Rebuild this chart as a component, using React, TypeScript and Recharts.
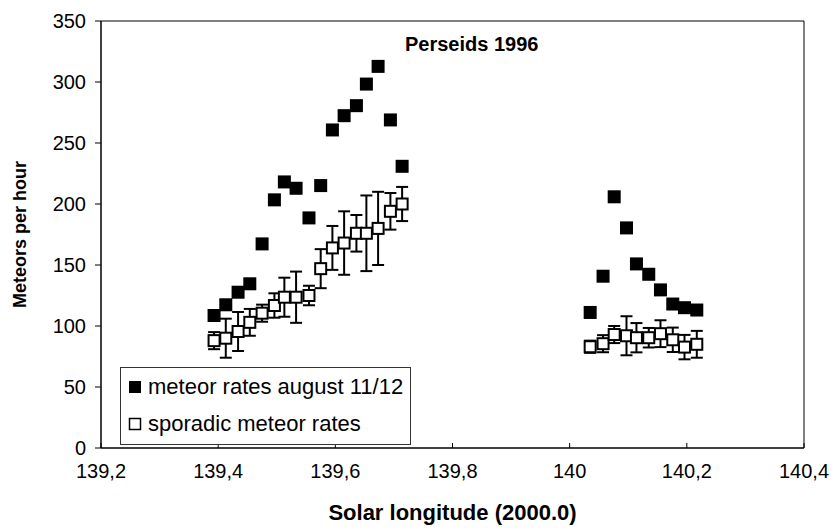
import { ScatterChart, Scatter, XAxis, YAxis, ErrorBar, ReferenceArea, Legend } from 'recharts'

// solar longitude of each observing interval (shared by both series)
const solarLongitude = [
  139.393, 139.413, 139.434, 139.454, 139.475, 139.496, 139.513, 139.533, 139.555,
  139.575, 139.595, 139.615, 139.636, 139.653, 139.673, 139.694, 139.714,
  140.035, 140.057, 140.076, 140.097, 140.114, 140.135, 140.155, 140.176, 140.196, 140.217,
]

const showerRates = [
  108.6, 117.4, 127.7, 134.6, 167.3, 203.4, 218.1, 212.9, 188.6,
  215.1, 260.7, 272.4, 280.6, 298.3, 312.8, 268.9, 230.9,
  111.1, 140.8, 205.9, 180.4, 150.9, 142.4, 129.6, 118.0, 115.0, 113.1,
]

const sporadicRates = [
  88, 90, 95.5, 103, 110.5, 116.8, 123.6, 123.6, 125,
  147, 164, 168, 176, 176, 180, 194, 200,
  83, 85.5, 93, 92, 90.4, 90.4, 93.7, 88.7, 82.7, 85,
]

const sporadicErrors = [
  7, 16, 16, 11, 7, 10, 16, 21, 8,
  16, 18, 26, 15, 31, 30, 15, 14,
  5, 7, 7, 16, 12, 8, 11, 10, 10, 11,
]

const xTicks = [139.2, 139.4, 139.6, 139.8, 140, 140.2, 140.4]
const yTicks = [0, 50, 100, 150, 200, 250, 300, 350]

const showerData = solarLongitude.map((x, i) => ({ x, y: showerRates[i] }))
const sporadicData = solarLongitude.map((x, i) => ({ x, y: sporadicRates[i], err: sporadicErrors[i] }))

const font = '"Liberation Sans", Arial, sans-serif'

const fmtX = (v: number) => String(Math.round(v * 10) / 10).replace('.', ',')

const FilledSquare = (p: any) => <rect x={p.cx - 6.5} y={p.cy - 6.5} width={13} height={13} fill="#000" />
const OpenSquare = (p: any) => (
  <rect x={p.cx - 5.5} y={p.cy - 5.5} width={11} height={11} fill="#fff" stroke="#000" strokeWidth={2} />
)

function LegendBox() {
  const row = { position: 'absolute' as const, left: 7, display: 'flex', alignItems: 'center', whiteSpace: 'nowrap' as const }
  return (
    <div style={{ position: 'relative', width: 291, height: 78, boxSizing: 'border-box', border: '1px solid #333', background: '#fff', fontFamily: font, fontSize: 22, color: '#000' }}>
      <div style={{ ...row, top: 6 }}>
        <svg width={14} height={14} style={{ marginRight: 6 }}>
          <rect x={1} y={1} width={12} height={12} fill="#000" />
        </svg>
        <span>meteor rates august 11/12</span>
      </div>
      <div style={{ ...row, top: 43 }}>
        <svg width={14} height={14} style={{ marginRight: 6 }}>
          <rect x={1.5} y={1.5} width={11} height={11} fill="#fff" stroke="#000" strokeWidth={1.5} />
        </svg>
        <span>sporadic meteor rates</span>
      </div>
    </div>
  )
}

export default function App() {
  return (
    <div style={{ position: 'absolute', left: 0, top: 0, width: 834, height: 530, background: '#fff', fontFamily: font }}>
      <div style={{ position: 'absolute', left: 405, top: 34, fontSize: 20, lineHeight: '20px', fontWeight: 'bold', color: '#000', zIndex: 2 }}>
        Perseids 1996
      </div>
      <ScatterChart width={834} height={530} margin={{ top: 21, right: 30, bottom: 0, left: 0 }} style={{ fontFamily: font }}>
        <XAxis
          type="number"
          dataKey="x"
          domain={[139.2, 140.4]}
          ticks={xTicks}
          tickFormatter={fmtX}
          allowDataOverflow
          height={82}
          tickSize={-5}
          tickMargin={21}
          stroke="#000"
          tick={{ fill: '#000', fontSize: 20 }}
          label={{ value: 'Solar longitude (2000.0)', position: 'insideBottom', offset: 10, style: { fontWeight: 'bold', fontSize: 22, fill: '#000' } }}
        />
        <YAxis
          type="number"
          dataKey="y"
          domain={[0, 350]}
          ticks={yTicks}
          allowDataOverflow
          width={101}
          tickSize={6}
          tickMargin={9}
          stroke="#000"
          tick={{ fill: '#000', fontSize: 20 }}
          label={{ value: 'Meteors per hour', angle: -90, position: 'insideLeft', offset: 20, style: { textAnchor: 'middle', fontWeight: 'bold', fontSize: 18, fill: '#000' } }}
        />
        <ReferenceArea x1={139.2} x2={140.4} y1={0} y2={350} fill="none" stroke="#000" strokeWidth={1} />
        <Scatter name="meteor rates august 11/12" data={showerData} shape={FilledSquare} isAnimationActive={false} />
        <Scatter name="sporadic meteor rates" data={sporadicData} shape={OpenSquare} isAnimationActive={false}>
          <ErrorBar dataKey="err" direction="y" width={6} strokeWidth={2} stroke="#000" />
        </Scatter>
        <Legend
          layout="horizontal"
          verticalAlign="middle"
          align="center"
          content={() => <LegendBox />}
          wrapperStyle={{ left: 120, top: 367, width: 291, height: 78 }}
        />
      </ScatterChart>
    </div>
  )
}
